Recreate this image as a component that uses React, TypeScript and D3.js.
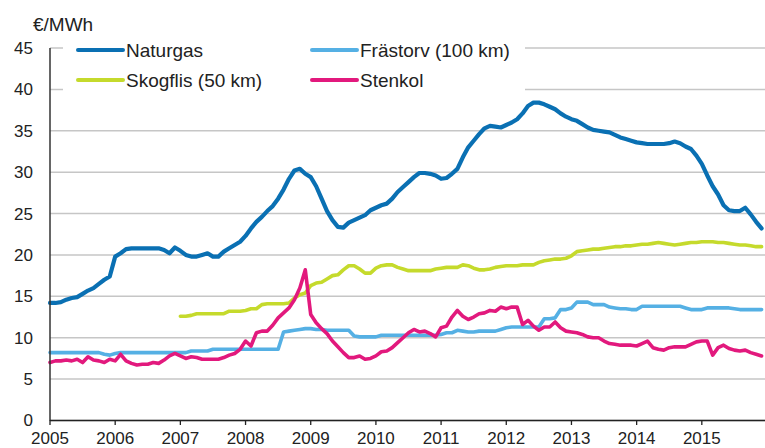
import React from "react";
import * as d3 from "d3";

const yearTicks = [2005, 2006, 2007, 2008, 2009, 2010, 2011, 2012, 2013, 2014, 2015];
const valueTicks = [0, 5, 10, 15, 20, 25, 30, 35, 40, 45];
const startYear = 2005;

const naturgas = [
  14.2, 14.2, 14.3, 14.6, 14.8, 14.9, 15.3, 15.7, 16.0, 16.5, 17.0, 17.4,
  19.8, 20.2, 20.7, 20.8, 20.8, 20.8, 20.8, 20.8, 20.8, 20.6, 20.2, 20.9,
  20.5, 20.0, 19.8, 19.8, 20.0, 20.2, 19.8, 19.8, 20.4, 20.8, 21.2, 21.6,
  22.3, 23.2, 24.0, 24.6, 25.3, 25.9, 26.8, 27.9, 29.2, 30.2, 30.4, 29.8,
  29.4, 28.3, 26.8, 25.3, 24.2, 23.4, 23.3, 23.9, 24.2, 24.5, 24.8, 25.4,
  25.7, 26.0, 26.2, 26.8, 27.6, 28.2, 28.8, 29.4, 29.9, 29.9, 29.8, 29.6,
  29.2, 29.3, 29.8, 30.4, 31.8, 33.0, 33.8, 34.6, 35.3, 35.6, 35.5, 35.4,
  35.7, 36.0, 36.4, 37.1, 38.0, 38.4, 38.4, 38.2, 37.9, 37.6, 37.1, 36.7,
  36.4, 36.2, 35.8, 35.4, 35.1, 35.0, 34.9, 34.8, 34.5, 34.2, 34.0, 33.8,
  33.6, 33.5, 33.4, 33.4, 33.4, 33.4, 33.5, 33.7, 33.5, 33.1, 32.8, 32.0,
  31.0, 29.6, 28.3, 27.3, 26.0, 25.4, 25.3, 25.3, 25.7, 24.9, 24.0, 23.2,
];

const frastorv = [
  8.2, 8.2, 8.2, 8.2, 8.2, 8.2, 8.2, 8.2, 8.2, 8.2, 8.0, 7.9,
  8.1, 8.2, 8.2, 8.2, 8.2, 8.2, 8.2, 8.2, 8.2, 8.2, 8.2, 8.2,
  8.2, 8.2, 8.4, 8.4, 8.4, 8.4, 8.6, 8.6, 8.6, 8.6, 8.6, 8.6,
  8.6, 8.6, 8.6, 8.6, 8.6, 8.6, 8.6, 10.7, 10.8, 10.9, 11.0, 11.1,
  11.1, 11.0, 11.0, 10.9, 10.9, 10.9, 10.9, 10.9, 10.2, 10.1, 10.1, 10.1,
  10.1, 10.3, 10.3, 10.3, 10.3, 10.3, 10.3, 10.3, 10.3, 10.3, 10.3, 10.3,
  10.4, 10.6, 10.6, 10.9, 10.8, 10.7, 10.7, 10.8, 10.8, 10.8, 10.8, 11.0,
  11.2, 11.3, 11.3, 11.3, 11.3, 11.3, 11.3, 12.3, 12.3, 12.4, 13.4, 13.4,
  13.6, 14.3, 14.3, 14.3, 14.0, 14.0, 14.0, 13.7, 13.6, 13.5, 13.5, 13.4,
  13.4, 13.8, 13.8, 13.8, 13.8, 13.8, 13.8, 13.8, 13.8, 13.6, 13.4, 13.4,
  13.4, 13.6, 13.6, 13.6, 13.6, 13.6, 13.5, 13.4, 13.4, 13.4, 13.4, 13.4,
];

const skogflis: (number | null)[] = [
  null, null, null, null, null, null, null, null, null, null, null, null,
  null, null, null, null, null, null, null, null, null, null, null, null,
  12.6, 12.6, 12.7, 12.9, 12.9, 12.9, 12.9, 12.9, 12.9, 13.2, 13.2, 13.2,
  13.3, 13.5, 13.5, 14.0, 14.1, 14.1, 14.1, 14.1, 14.2, 14.8, 15.2, 15.4,
  16.3, 16.6, 16.7, 17.1, 17.5, 17.6, 18.2, 18.7, 18.7, 18.3, 17.8, 17.8,
  18.4, 18.7, 18.8, 18.8, 18.5, 18.3, 18.1, 18.1, 18.1, 18.1, 18.1, 18.3,
  18.4, 18.5, 18.5, 18.5, 18.8, 18.7, 18.4, 18.2, 18.2, 18.3, 18.5, 18.6,
  18.7, 18.7, 18.7, 18.8, 18.8, 18.8, 19.1, 19.3, 19.4, 19.5, 19.5, 19.6,
  19.9, 20.4, 20.5, 20.6, 20.7, 20.7, 20.8, 20.9, 21.0, 21.0, 21.1, 21.1,
  21.2, 21.3, 21.3, 21.4, 21.5, 21.4, 21.3, 21.2, 21.3, 21.4, 21.5, 21.5,
  21.6, 21.6, 21.6, 21.5, 21.5, 21.4, 21.3, 21.2, 21.2, 21.1, 21.0, 21.0,
];

const stenkol = [
  7.0, 7.2, 7.2, 7.3, 7.2, 7.4, 7.0, 7.7, 7.3, 7.2, 7.0, 7.4,
  7.2, 8.0, 7.2, 6.9, 6.7, 6.8, 6.8, 7.0, 6.9, 7.3, 7.8, 8.1,
  7.8, 7.5, 7.7, 7.6, 7.4, 7.4, 7.4, 7.4, 7.6, 7.9, 8.1, 8.6,
  9.6, 9.0, 10.6, 10.8, 10.8, 11.5, 12.4, 13.0, 13.6, 14.6, 16.0, 18.2,
  12.8, 11.8, 11.1, 10.5, 9.6, 8.9, 8.2, 7.6, 7.6, 7.8, 7.4, 7.5,
  7.8, 8.3, 8.4, 8.8, 9.4, 10.0, 10.6, 11.0, 10.7, 10.8, 10.5, 10.1,
  11.2, 11.4, 12.5, 13.3, 12.6, 12.2, 12.5, 12.9, 13.0, 13.3, 13.2, 13.7,
  13.5, 13.7, 13.7, 11.6, 12.1, 11.4, 10.9, 11.3, 11.3, 11.9, 11.2, 10.8,
  10.7, 10.6, 10.4, 10.1, 10.0, 10.0, 9.6, 9.3, 9.2, 9.1, 9.1, 9.1,
  9.0, 9.3, 9.6, 8.8, 8.6, 8.5, 8.8, 8.9, 8.9, 8.9, 9.2, 9.5,
  9.6, 9.6, 7.9, 8.8, 9.1, 8.7, 8.5, 8.4, 8.5, 8.2, 8.0, 7.8,
];

const seriesNames = ["Naturgas", "Frästorv (100 km)", "Skogflis (50 km)", "Stenkol"];
const seriesColors = ["#0a70b3", "#55b0e4", "#c5da2c", "#e2197d"];

export default function App() {
  const W = 765;
  const H = 448;
  const x = d3.scaleLinear().domain([2005, 2016]).range([50, 767]);
  const y = d3.scaleLinear().domain([0, 45]).range([420.5, 48]);
  const font = "'Liberation Sans', Arial, sans-serif";

  const makeLine = (vals: (number | null)[]) =>
    d3
      .line<number | null>()
      .defined((d) => d !== null)
      .x((_, i) => x(startYear + i / 12))
      .y((d) => y(d as number))(vals) || "";

  const series = [
    { name: seriesNames[0], vals: naturgas, color: seriesColors[0], w: 4.2 },
    { name: seriesNames[1], vals: frastorv, color: seriesColors[1], w: 3.6 },
    { name: seriesNames[2], vals: skogflis, color: seriesColors[2], w: 3.6 },
    { name: seriesNames[3], vals: stenkol, color: seriesColors[3], w: 3.6 },
  ];
  const drawOrder = [1, 2, 3, 0];

  const legend = [
    { s: 0, lx: 78, ly: 50 },
    { s: 2, lx: 78, ly: 80 },
    { s: 1, lx: 312, ly: 50 },
    { s: 3, lx: 312, ly: 80 },
  ];

  return (
    <svg
      width={W}
      height={H}
      style={{ position: "absolute", left: 0, top: 0, background: "#fff" }}
      fontFamily={font}
    >
      <rect x={0} y={0} width={W} height={H} fill="#fff" />
      {valueTicks.map((v) => (
        <line key={"g" + v} x1={50} x2={765} y1={y(v)} y2={y(v)} stroke="#c6c6c6" strokeWidth={1.5} />
      ))}
      <rect x={63} y={36} width={462} height={64} fill="#fff" />
      {valueTicks.map((v) => (
        <text key={"yt" + v} x={33} y={y(v)} dy="0.35em" textAnchor="end" fontSize={17} fill="#222">
          {v}
        </text>
      ))}
      <text x={33} y={31} fontSize={19} fill="#222">€/MWh</text>
      {drawOrder.map((i) => (
        <path
          key={series[i].name}
          d={makeLine(series[i].vals)}
          fill="none"
          stroke={series[i].color}
          strokeWidth={series[i].w}
          strokeLinejoin="round"
          strokeLinecap="round"
        />
      ))}
      <line x1={50} x2={50} y1={48} y2={421} stroke="#333" strokeWidth={1.5} />
      <line x1={50} x2={765} y1={420.5} y2={420.5} stroke="#222" strokeWidth={1.5} />
      {yearTicks.map((t) => (
        <g key={"xt" + t}>
          <line x1={x(t)} x2={x(t)} y1={420.5} y2={425} stroke="#222" strokeWidth={1.3} />
          <text x={x(t)} y={444} textAnchor="middle" fontSize={17} fill="#222">
            {t}
          </text>
        </g>
      ))}
      {legend.map((l) => (
        <g key={"lg" + l.s}>
          <line
            x1={l.lx}
            x2={l.lx + 45}
            y1={l.ly}
            y2={l.ly}
            stroke={series[l.s].color}
            strokeWidth={4}
            strokeLinecap="round"
          />
          <text x={l.lx + 48} y={l.ly} dy="0.36em" fontSize={19} fill="#222">
            {series[l.s].name}
          </text>
        </g>
      ))}
    </svg>
  );
}
